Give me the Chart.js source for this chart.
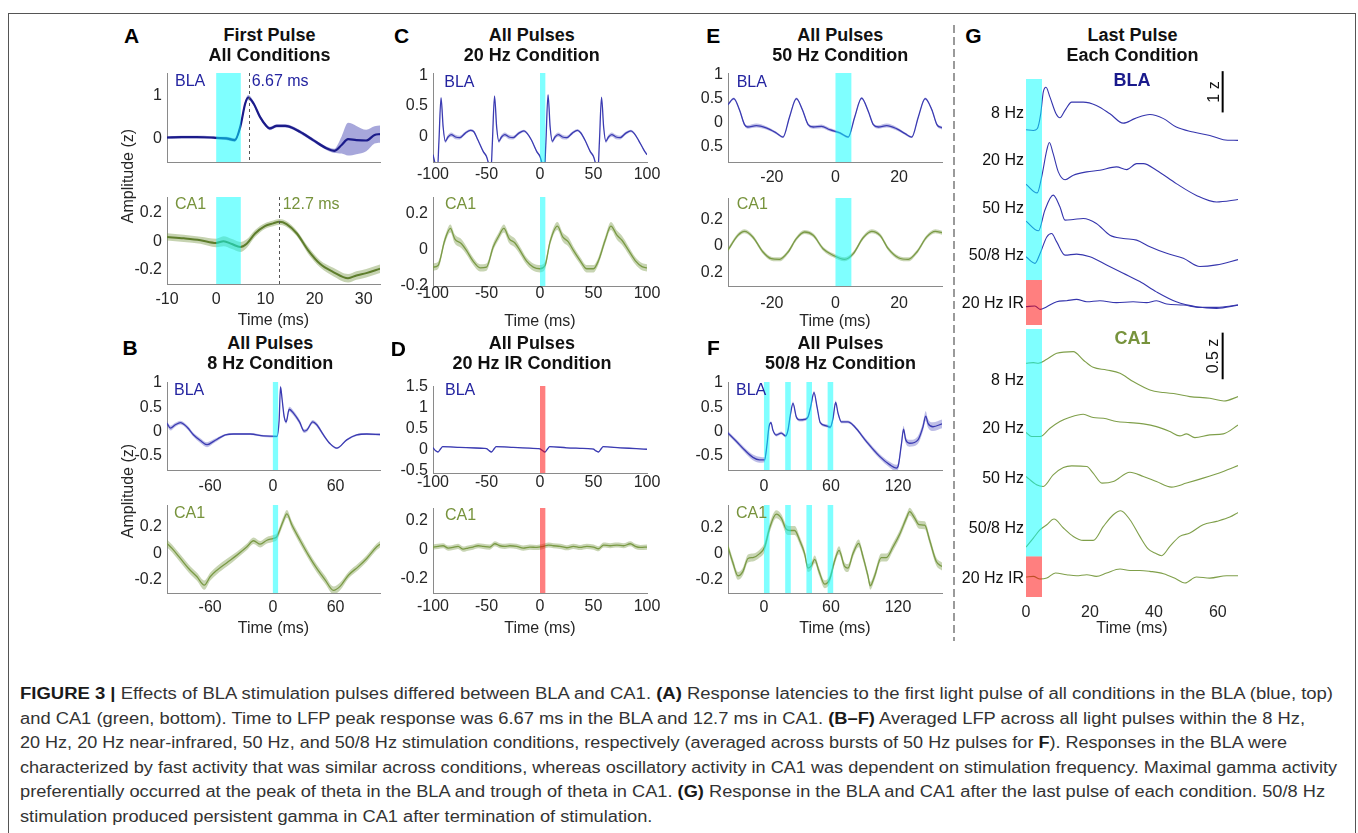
<!DOCTYPE html>
<html><head><meta charset="utf-8">
<script src="https://cdn.jsdelivr.net/npm/chart.js@4.4.1/dist/chart.umd.min.js"></script>
<style>
html,body{margin:0;padding:0;background:#fff;}
body{width:1358px;height:833px;overflow:hidden;position:relative;font-family:'Liberation Sans',Arial,Helvetica,sans-serif;}
.t{position:absolute;white-space:nowrap;line-height:1;}
.cap{position:absolute;left:20px;white-space:nowrap;line-height:1;font-size:16px;color:#333;transform-origin:0 50%;}
.cap b{color:#1a1a1a;}
</style></head><body>
<div style="position:absolute;left:8px;top:13px;width:1346px;height:900px;border:1.5px solid #555;"></div>
<div style="position:absolute;left:953px;top:25px;width:2px;height:616px;background:repeating-linear-gradient(to bottom,#9a9a9a 0 8px,transparent 8px 12px);"></div>
<div id="caption">
<div class="cap" data-w="1313" style="top:686px"><b>FIGURE 3 |</b> Effects of BLA stimulation pulses differed between BLA and CA1. <b>(A)</b> Response latencies to the first light pulse of all conditions in the BLA (blue, top)</div>
<div class="cap" data-w="1285" style="top:711px">and CA1 (green, bottom). Time to LFP peak response was 6.67 ms in the BLA and 12.7 ms in CA1. <b>(B–F)</b> Averaged LFP across all light pulses within the 8 Hz,</div>
<div class="cap" data-w="1267" style="top:735px">20 Hz, 20 Hz near-infrared, 50 Hz, and 50/8 Hz stimulation conditions, respectively (averaged across bursts of 50 Hz pulses for <b>F</b>). Responses in the BLA were</div>
<div class="cap" data-w="1317" style="top:760px">characterized by fast activity that was similar across conditions, whereas oscillatory activity in CA1 was dependent on stimulation frequency. Maximal gamma activity</div>
<div class="cap" data-w="1305" style="top:784px">preferentially occurred at the peak of theta in the BLA and trough of theta in CA1. <b>(G)</b> Response in the BLA and CA1 after the last pulse of each condition. 50/8 Hz</div>
<div class="cap" data-w="0" style="top:809px">stimulation produced persistent gamma in CA1 after termination of stimulation.</div>
</div>
<script>
// ================= DATA =================
// tick values
const aXTicks = [-10, 0, 10, 20, 30];
const bXTicks = [-60, 0, 60];
const cdXTicks = [-100, -50, 0, 50, 100];
const eXTicks = [-20, 0, 20];
const fXTicks = [0, 60, 120];
const gXTicks = [0, 20, 40, 60];
const aBlaYTicks = [0, 1];
const ca1YTicks = [-0.2, 0, 0.2];
const bfBlaYTicks = [-0.5, 0, 0.5, 1];
const cBlaYTicks = [0, 0.5, 1];
const dBlaYTicks = [-0.5, 0, 0.5, 1, 1.5];
const eBlaYTicks = [-0.5, 0, 0.5, 1];

// light pulses (ms): start times, duration
const pulseWidth = 5;
const singlePulse = [0];
const burstPulses = [0, 19, 38, 57];
const peakLatencies = { bla: 6.67, ca1: 12.7 };

// Panel A: first pulse, all conditions
const aBlaT = [-10,-7,-4,-1,0,2,3.8,4.9,5.9,6.5,7.6,8.9,10.2,10.9,12.3,14,17,19.7,22.4,24,25.5,26.8,28.5,30.5,32.2,33.3];
const aBlaV = [0.02,0.03,0.03,0.02,0.01,0.0,-0.04,0.27,0.81,0.95,0.81,0.5,0.29,0.23,0.29,0.29,0.155,-0.04,-0.23,-0.29,-0.155,-0.02,-0.04,-0.05,0.08,0.1];
const aBlaS = [0.03,0.03,0.03,0.03,0.03,0.04,0.04,0.05,0.06,0.06,0.05,0.04,0.04,0.04,0.04,0.04,0.04,0.04,0.04,0.05,0.2,0.38,0.33,0.25,0.2,0.2];
const aCa1T = [-10,-6.6,-3.2,0,1.5,3.2,4.9,6.2,7.9,9.9,11.6,12.8,14.3,16.4,18.7,21.1,23.8,26.8,28.5,30.5,33.3];
const aCa1V = [0.03,0.02,0.007,-0.012,0,-0.02,-0.04,-0.017,0.054,0.106,0.125,0.136,0.12,0.054,-0.064,-0.158,-0.216,-0.26,-0.24,-0.224,-0.193];
const aCa1S = [0.025,0.025,0.025,0.03,0.035,0.035,0.035,0.03,0.025,0.02,0.02,0.02,0.02,0.02,0.025,0.025,0.03,0.03,0.03,0.03,0.03];

// Panel B: 8 Hz
const bBlaT = [-101.3,-98,-93.3,-88.5,-82,-75.8,-69.4,-63,-56.7,-50.3,-45.5,-37.6,-21.7,-8.9,3.8,6,7.3,8.9,10.8,12.7,15.6,19.7,25.5,30,32.5,38.2,42,48.4,54.8,61.1,70.7,80.3,89.8,102.5];
const bBlaV = [0.17,0.07,0.14,0.185,0.09,-0.07,-0.185,-0.27,-0.2,-0.12,-0.07,-0.05,-0.05,-0.09,-0.1,0.24,0.92,0.65,0.31,0.2,0.46,0.38,0.2,0.01,0.03,0.2,0.14,-0.07,-0.25,-0.34,-0.17,-0.07,-0.05,-0.06];
const bBlaS = [0.05,0.05,0.04,0.04,0.04,0.04,0.05,0.05,0.04,0.03,0.02,0.02,0.02,0.02,0.02,0.03,0.03,0.04,0.04,0.04,0.05,0.05,0.05,0.04,0.04,0.04,0.04,0.03,0.02,0.02,0.02,0.02,0.02,0.02];
const bCa1T = [-101.3,-96.5,-88.5,-80.6,-72.6,-65.6,-60,-53.5,-44,-34.4,-24.8,-18.5,-12.1,-5.7,0.6,3.8,9.6,13.4,18.2,26,34,42,50,58,64.3,72.3,81.8,89.8,99.4,102.5];
const bCa1V = [0.076,0.038,-0.038,-0.114,-0.177,-0.24,-0.177,-0.127,-0.07,-0.013,0.05,0.096,0.07,0.1,0.114,0.127,0.24,0.3,0.215,0.1,-0.013,-0.114,-0.2,-0.28,-0.25,-0.165,-0.1,-0.038,0.05,0.07];
const bCa1S = [0.03,0.03,0.03,0.03,0.03,0.035,0.03,0.03,0.03,0.025,0.025,0.025,0.025,0.025,0.025,0.025,0.03,0.03,0.03,0.03,0.03,0.03,0.03,0.03,0.03,0.025,0.025,0.025,0.025,0.025];

// Panel C: 20 Hz
const cBlaT = [-100,-98,-96,-94.5,-92.5,-90.5,-88.5,-86,-83,-79,-75,-70,-65,-62,-58,-53,-50,-48,-46,-44.5,-42.5,-40.5,-38.5,-36,-33,-29,-25,-20,-15,-12,-8,-3,0,2,4,5.5,7.5,9.5,11.5,14,17,21,25,30,35,38,42,47,50,52,54,55.5,57.5,59.5,61.5,64,67,71,75,80,85,88,92,97,100];
const cBlaV = [-0.3,-0.45,-0.6,-0.1,0.63,0.15,-0.08,-0.01,0.03,-0.01,-0.02,0.05,0.1,0.08,-0.06,-0.25,-0.33,-0.45,-0.6,-0.1,0.66,0.15,-0.08,-0.01,0.03,-0.01,-0.02,0.05,0.09,0.05,-0.06,-0.25,-0.33,-0.45,-0.6,-0.1,0.68,0.15,-0.08,-0.01,0.03,-0.01,-0.02,0.05,0.1,0.06,-0.06,-0.25,-0.33,-0.45,-0.6,-0.1,0.64,0.15,-0.08,-0.01,0.03,-0.01,-0.02,0.05,0.09,0.05,-0.06,-0.22,-0.3];
const cBlaS = [0.015,0.015,0.015,0.015,0.02,0.02,0.03,0.035,0.035,0.035,0.03,0.025,0.02,0.02,0.015,0.015,0.015,0.015,0.015,0.015,0.02,0.02,0.03,0.035,0.035,0.035,0.03,0.025,0.02,0.02,0.015,0.015,0.015,0.015,0.015,0.015,0.02,0.02,0.03,0.035,0.035,0.035,0.03,0.025,0.02,0.02,0.015,0.015,0.015,0.015,0.015,0.015,0.02,0.02,0.03,0.035,0.035,0.035,0.03,0.025,0.02,0.02,0.015,0.015,0.015];
const cCa1T = [-100,-95.3,-89,-83.75,-79.7,-73.4,-68.75,-62.5,-56,-50,-43.75,-39,-33.75,-28.75,-23.4,-18.75,-12.5,-6.25,0,4.7,9.4,16.25,21.25,26.5,31.25,37.5,43.75,50,54.7,60.9,66.25,71.9,76.6,82.8,89,95.3,100];
const cCa1V = [-0.096,-0.087,0.052,0.117,0.06,0.033,-0.004,-0.063,-0.1,-0.096,0.015,0.07,0.117,0.06,0.037,-0.004,-0.063,-0.096,-0.105,-0.087,0.043,0.13,0.07,0.043,-0.004,-0.06,-0.105,-0.105,-0.06,0.052,0.13,0.08,0.052,-0.004,-0.06,-0.093,-0.1];
const cCa1S = [0.02,0.02,0.02,0.022,0.025,0.025,0.022,0.02,0.02,0.02,0.02,0.02,0.022,0.025,0.025,0.022,0.02,0.02,0.02,0.02,0.02,0.022,0.025,0.025,0.022,0.02,0.02,0.02,0.02,0.02,0.022,0.025,0.025,0.022,0.02,0.02,0.02];

// Panel D: 20 Hz IR
const dBlaT = [-100,-97.5,-95.3,-93,-91,-75,-60,-52,-50,-48,-45.3,-43,-41,-25,-10,-2,0,2,4.7,7,9,25,40,48,50,52,54.7,57,59,75,90,100];
const dBlaV = [0.05,-0.02,-0.05,0.02,0.077,0.06,0.045,0.035,0.03,-0.01,-0.05,0.02,0.077,0.06,0.04,0.03,0.025,-0.01,-0.05,0.02,0.077,0.05,0.035,0.025,0.02,-0.02,-0.05,0.02,0.077,0.05,0.03,0.015];
const dBlaS = [0.012,0.012,0.012,0.012,0.012,0.01,0.01,0.01,0.01,0.012,0.012,0.012,0.012,0.01,0.01,0.01,0.01,0.012,0.012,0.012,0.012,0.01,0.01,0.01,0.01,0.012,0.012,0.012,0.012,0.01,0.01,0.01];
const dCa1T = [-100,-95.3,-90.6,-85.9,-81.25,-76.6,-71.9,-67.2,-62.5,-57.8,-53.1,-46.9,-42.2,-37.5,-32.8,-28.1,-21.9,-15.6,-9.4,-3.1,3.1,7.8,12.5,18.75,25,31.25,37.5,43.75,50,54.7,59.4,65.6,71.9,78.1,84.4,89.1,93.75,100];
const dCa1V = [0.019,0.024,0.028,0.012,0.016,0.024,0.005,0.012,0.019,0.028,0.024,0.019,0.042,0.028,0.024,0.028,0.024,0.012,0.019,0.016,0.024,0.033,0.028,0.024,0.014,0.024,0.016,0.024,0.019,0.007,0.033,0.028,0.033,0.028,0.042,0.024,0.016,0.019];
const dCa1S = [0.018,0.018,0.018,0.018,0.018,0.018,0.018,0.018,0.018,0.018,0.018,0.018,0.018,0.018,0.018,0.018,0.018,0.018,0.018,0.018,0.018,0.018,0.018,0.018,0.018,0.018,0.018,0.018,0.018,0.018,0.018,0.018,0.018,0.018,0.018,0.018,0.018,0.018];

// Panel E: 50 Hz
const eBlaT = [-33.8,-32,-30.2,-28.6,-27.6,-24.9,-21.8,-18.6,-16.5,-14.4,-12.3,-10.4,-8.6,-7,-4.4,-1.8,1.4,4,6.1,8.2,10.3,11.9,13.5,16.1,19.3,21.9,24,26.1,28.2,30.3,31.9,33.5];
const eBlaV = [0.375,0.5,0.27,-0.04,-0.09,-0.06,-0.11,-0.215,-0.3,0.13,0.5,0.27,-0.04,-0.09,-0.076,-0.146,-0.215,-0.3,0.13,0.51,0.24,-0.04,-0.09,-0.06,-0.13,-0.23,-0.3,0.13,0.5,0.27,-0.04,-0.11];
const eBlaS = [0.025,0.025,0.025,0.03,0.035,0.04,0.035,0.025,0.02,0.02,0.025,0.025,0.03,0.035,0.04,0.035,0.025,0.02,0.02,0.025,0.025,0.03,0.035,0.04,0.035,0.025,0.02,0.02,0.025,0.025,0.03,0.035];
const eCa1T = [-33.8,-30.7,-28.6,-26,-22.8,-20.2,-17.6,-14.9,-12.3,-9.7,-7,-3.9,-0.7,2.9,5.6,8.7,11.4,14,16.6,19.8,22.9,25.6,28.7,31.4,33.5];
const eCa1V = [-0.03,0.08,0.11,0.068,-0.045,-0.095,-0.1,-0.045,0.055,0.105,0.08,-0.02,-0.07,-0.1,-0.057,0.062,0.11,0.08,-0.02,-0.088,-0.1,-0.045,0.068,0.11,0.1];
const eCa1S = [0.015,0.015,0.015,0.015,0.015,0.015,0.015,0.015,0.015,0.015,0.015,0.015,0.015,0.015,0.015,0.015,0.015,0.015,0.015,0.015,0.015,0.015,0.015,0.015,0.015];

// Panel F: 50/8 Hz
const fBlaT = [-32.2,-24.8,-17.3,-9.9,-3.9,0.6,2.7,4.5,6.3,8,11,15.5,19.4,21.5,23.6,26,29,32,36.4,39.4,41.8,44.8,47.5,50.4,55.8,59.4,61.8,64.2,66.3,69.3,75.2,81.2,91.6,103.6,112.5,118.5,120,123,125,126.9,130.4,137.9,142.4,144.8,146.9,151.3,159.4];
const fBlaV = [-0.03,-0.2,-0.38,-0.53,-0.58,-0.58,-0.27,0.1,0.185,0.03,-0.07,-0.03,-0.09,0.03,0.34,0.58,0.3,0.24,0.25,0.3,0.51,0.8,0.51,0.185,0.12,0.09,0.27,0.6,0.38,0.2,0.2,0.1,-0.2,-0.51,-0.68,-0.75,-0.72,-0.27,0.05,-0.17,-0.24,-0.17,0.1,0.32,0.17,0.1,0.16];
const fBlaS = [0.04,0.04,0.05,0.06,0.06,0.05,0.04,0.03,0.03,0.03,0.03,0.03,0.03,0.03,0.03,0.04,0.03,0.03,0.03,0.03,0.03,0.04,0.03,0.03,0.03,0.03,0.03,0.04,0.03,0.03,0.03,0.03,0.04,0.05,0.06,0.07,0.07,0.07,0.07,0.07,0.07,0.08,0.09,0.1,0.09,0.09,0.09];
const fCa1T = [-32.2,-27.8,-23.3,-18.8,-14.3,-9.9,-3.9,0.6,5.1,11,15.5,20,23,27.5,32,36.4,39.4,42.4,45.4,49.3,54.3,58.8,63.3,67.2,72.2,75.2,79.7,84.8,88.7,93.1,95.2,99.1,105,109.6,115.5,121.5,127.5,130.4,134.9,138.8,143.9,148.4,154.3,159.4];
const fCa1V = [0.05,-0.07,-0.17,-0.135,-0.037,-0.03,0,0.05,0.196,0.3,0.27,0.185,0.176,0.176,0.1,0,-0.11,-0.093,-0.044,-0.135,-0.233,-0.196,-0.054,0.025,-0.098,-0.11,0,0.078,-0.025,-0.17,-0.245,-0.17,-0.03,-0.03,0.05,0.147,0.27,0.32,0.27,0.22,0.216,0.1,-0.06,-0.098];
const fCa1S = [0.03,0.03,0.03,0.03,0.03,0.03,0.03,0.035,0.035,0.03,0.03,0.035,0.035,0.035,0.03,0.03,0.03,0.03,0.03,0.03,0.03,0.03,0.03,0.03,0.03,0.03,0.03,0.03,0.03,0.03,0.03,0.03,0.03,0.03,0.03,0.03,0.03,0.03,0.03,0.03,0.03,0.03,0.03,0.03];

// Panel G: last pulse, each condition (values relative to trace start, z)
const gConditions = ['8 Hz', '20 Hz', '50 Hz', '50/8 Hz', '20 Hz IR'];
const gBla8T = [0,2.3,3.5,4.6,5.4,6.25,7.5,9.4,10.6,12.2,14.3,17.9,22,26.25,30.4,34,38.75,43,47,52.3,57.5,61.7,66.4];
const gBla8V = [0,-0.016,0.024,0.387,0.91,1.03,0.79,0.387,0.29,0.47,0.67,0.67,0.59,0.387,0.16,0.27,0.37,0.27,0.065,-0.056,-0.137,-0.24,-0.258];
const gBla20T = [0,3.5,4.9,6.5,7.3,8.5,10.1,12.2,14.8,19,23.1,28.3,31.5,34.6,36.7,40.8,47,53.3,59.6,66.4];
const gBla20V = [0,-0.21,0.18,0.825,1.01,0.74,0.3,0.11,0.22,0.3,0.34,0.42,0.355,0.5,0.5,0.34,0.016,-0.27,-0.43,-0.37];
const gBla50T = [0,3.9,5.9,8.5,10.6,12.2,14.8,17.9,22,26.25,30.4,34.6,38.75,44,49.2,54.4,59.6,66.4];
const gBla50V = [0,-0.234,0.266,0.63,0.35,0.024,0.04,0.065,-0.056,-0.34,-0.42,-0.46,-0.62,-0.78,-0.9,-1.1,-1.06,-0.93];
const gBla508T = [0,2.8,4.4,6.5,8,9.6,12.2,15.8,20,25.2,30.4,35.6,40.8,47,53.3,59.6,66.4];
const gBla508V = [0,-0.16,0.08,0.48,0.565,0.36,0.04,0.065,0,-0.2,-0.4,-0.6,-0.85,-1.09,-1.21,-1.25,-1.17];
const gBlaIrT = [0,2.8,4.4,6.5,9.6,12.7,15.8,19,23.1,28.3,33.5,37.7,40.8,44,49.2,54.4,59.6,66.4];
const gBlaIrV = [0,0.016,-0.065,0,0.12,0.145,0.177,0.12,0.145,0.097,0.12,0.097,0.145,0.065,0.04,-0.016,-0.016,0.04];
const gCa18T = [0,2.3,3.9,6.5,9.6,14.8,17.9,21,25.2,29.4,33.5,38.75,43,47,51.25,57.5,61.9,66.4];
const gCa18V = [0,0.007,0,0.043,0.107,0.125,0.036,-0.043,-0.071,-0.107,-0.196,-0.286,-0.314,-0.329,-0.357,-0.375,-0.404,-0.357];
const gCa120T = [0,1.8,4.4,7.5,10.6,13.75,17.9,21,24.2,28.3,32.5,36.7,40.8,45,48.1,50.2,52.8,57.5,61.7,66.4];
const gCa120V = [0,-0.043,-0.043,0.046,0.118,0.164,0.196,0.161,0.154,0.118,0.107,0.093,0.064,0.011,-0.036,-0.014,-0.054,-0.025,-0.014,0.082];
const gCa150T = [0,3.3,5.4,8.5,11.7,14.3,19,21,23.75,27.3,32.5,36.7,40.8,45.5,50.2,55.4,61.7,66.4];
const gCa150V = [0,-0.089,-0.107,0.018,0.096,0.114,0.107,0.036,-0.071,-0.054,0.046,0,-0.054,-0.114,-0.071,-0.018,0.054,0.118];
const gCa1508T = [0,2.3,4.4,6.5,8.75,11.7,14.8,17.9,21,24.2,27.3,29.6,32.5,35.6,38.2,40.3,42.4,45,48.1,51.25,55.4,59.6,63.75,66.4];
const gCa1508V = [0,0.096,0.186,0.239,0.3,0.204,0.114,0.071,0.071,0.221,0.346,0.389,0.293,0.114,-0.021,-0.064,-0.093,0.007,0.114,0.15,0.239,0.275,0.321,0.371];
const gCa1IrT = [0,2.3,4.4,6.5,9.2,12.7,15.8,19,22,25.2,29.4,32.5,35.6,38.75,43,47,49.7,53.3,57.5,62.75,66.4];
const gCa1IrV = [0,0.007,-0.021,-0.011,0.043,0.025,0.014,0.025,0.007,0.043,0.086,0.071,0.071,0.061,0.036,-0.021,-0.064,0,-0.011,0.014,0.014];
const gScaleBars = { bla: 1, ca1: 0.5 };

// ================= STYLE / LAYOUT =================
const FONT = "'Liberation Sans', Arial, Helvetica, sans-serif";
const INK = '#262626';
Chart.defaults.font.family = FONT;
const CYAN = 'rgba(0,255,255,0.5)', RED = 'rgba(255,0,0,0.5)';
const BLA_TXT = '#2424a0', CA1_TXT = '#77933c';
const styleBlaA = { line: '#1b1b8a', w: 2.2, band: 'rgba(60,60,175,0.45)' };
const styleBla = { line: '#3b3bb2', w: 1.3, band: 'rgba(70,70,185,0.35)' };
const styleCa1A = { line: '#5e7d2c', w: 2.0, band: 'rgba(120,150,70,0.42)' };
const styleCa1 = { line: '#7a9a45', w: 1.3, band: 'rgba(125,155,75,0.42)' };

function series(t, v, s, st) {
  const out = [{ data: t.map((x, i) => ({ x, y: v[i] })), borderColor: st.line, borderWidth: st.w,
    pointRadius: 0, fill: false, cubicInterpolationMode: 'monotone', order: 0 }];
  if (s) {
    out.push({ data: t.map((x, i) => ({ x, y: v[i] + s[i] })), borderWidth: 0, borderColor: 'rgba(0,0,0,0)',
      pointRadius: 0, fill: false, cubicInterpolationMode: 'monotone', order: 1 });
    out.push({ data: t.map((x, i) => ({ x, y: v[i] - s[i] })), borderWidth: 0, borderColor: 'rgba(0,0,0,0)',
      pointRadius: 0, fill: '-1', backgroundColor: st.band, cubicInterpolationMode: 'monotone', order: 1 });
  }
  return out;
}

function makeChart(p) {
  const L = Math.round(p.L), T = Math.round(p.T), R = Math.round(p.R), B = Math.round(p.B);
  const padL = 50, padR = 30, padT = p.padT || 12;
  const xH = p.xTitle ? Math.round(p.titleY - B + 9.6) : (p.showX ? 30 : 6);
  const W = (R - L) + padL + padR, H = (B - T) + padT + xH;
  const div = document.createElement('div');
  div.style.cssText = `position:absolute;left:${L - padL}px;top:${T - padT}px;width:${W}px;height:${H}px;`;
  const cv = document.createElement('canvas');
  cv.width = W; cv.height = H; cv.style.width = W + 'px'; cv.style.height = H + 'px';
  div.appendChild(cv); document.body.appendChild(div);
  const axisCol = '#8a8a8a';
  const overlay = {
    id: 'overlay' + p.id,
    afterDatasetsDraw(chart) {
      const { ctx, chartArea: ca, scales: { x, y } } = chart;
      ctx.save();
      (p.stims || []).forEach(s => {
        const x0 = x.getPixelForValue(s.x0), x1 = x.getPixelForValue(s.x1);
        const y0 = s.y0 === undefined ? ca.bottom : y.getPixelForValue(s.y0);
        const y1 = s.y1 === undefined ? ca.top : y.getPixelForValue(s.y1);
        ctx.fillStyle = s.color; ctx.fillRect(x0, y1, x1 - x0, y0 - y1);
      });
      (p.vlines || []).forEach(v => {
        const xp = Math.round(x.getPixelForValue(v)) + 0.5;
        ctx.strokeStyle = '#555'; ctx.lineWidth = 1; ctx.setLineDash([3, 3]);
        ctx.beginPath(); ctx.moveTo(xp, ca.top); ctx.lineTo(xp, ca.bottom); ctx.stroke();
      });
      ctx.setLineDash([]);
      (p.bars || []).forEach(b => {
        const xp = x.getPixelForValue(b.x);
        ctx.strokeStyle = '#000'; ctx.lineWidth = 2;
        ctx.beginPath(); ctx.moveTo(xp, y.getPixelForValue(b.y0)); ctx.lineTo(xp, y.getPixelForValue(b.y0 + b.len)); ctx.stroke();
      });
      ctx.restore();
    }
  };
  new Chart(cv, {
    type: 'line',
    data: { datasets: p.datasets },
    plugins: [overlay],
    options: {
      responsive: false, animation: false, events: [],
      layout: { padding: { top: padT, right: padR, left: 0, bottom: 0 } },
      plugins: { legend: { display: false }, tooltip: { enabled: false } },
      scales: {
        x: {
          type: 'linear', min: p.xmin, max: p.xmax, bounds: 'data',
          afterBuildTicks: s => { s.ticks = p.xticks.map(v => ({ value: v })); },
          afterFit: s => { s.height = xH; s.paddingLeft = 0; s.paddingRight = 0; },
          ticks: { display: !!p.showX, padding: p.xPad || 0, color: INK, maxRotation: 0, autoSkip: false,
            font: { family: FONT, size: 16, lineHeight: 1 }, callback: v => String(v) },
          grid: { display: true, drawOnChartArea: false, drawTicks: false, color: axisCol },
          border: { display: p.axes !== false, color: axisCol, width: 1 },
          title: { display: !!p.xTitle, text: p.xTitle || '', color: INK, padding: { top: 0, bottom: 0 },
            font: { family: FONT, size: 16, lineHeight: 1.2 } }
        },
        y: {
          type: 'linear', min: p.ymin, max: p.ymax, bounds: 'data',
          afterBuildTicks: s => { s.ticks = (p.yticks || []).map(v => ({ value: v })); },
          afterFit: s => { s.width = padL; s.paddingTop = 0; s.paddingBottom = 0; },
          ticks: { display: p.axes !== false, padding: 5, color: INK, autoSkip: false,
            font: { family: FONT, size: 16, lineHeight: 1 }, callback: p.yfmt || (v => String(v)) },
          grid: { display: true, drawOnChartArea: false, drawTicks: false, color: axisCol },
          border: { display: p.axes !== false, color: axisCol, width: 1 }
        }
      }
    }
  });
}

const stim1 = singlePulse.map(s => ({ x0: s, x1: s + pulseWidth, color: CYAN }));
const stimIR = singlePulse.map(s => ({ x0: s, x1: s + pulseWidth, color: RED }));
const stimF = burstPulses.map(s => ({ x0: s, x1: s + pulseWidth, color: CYAN }));
const noMinus = v => String(Math.abs(v));

const charts = [
  { id: 'aBla', L: 166.7, T: 73, R: 380, B: 162, xmin: -10, xmax: 33.3, ymin: -0.55, ymax: 1.52, xticks: aXTicks, yticks: aBlaYTicks,
    showX: false, datasets: series(aBlaT, aBlaV, aBlaS, styleBlaA), stims: stim1, vlines: [peakLatencies.bla] },
  { id: 'aCa1', L: 166.7, T: 196.7, R: 380, B: 284.3, xmin: -10, xmax: 33.3, ymin: -0.3, ymax: 0.31, xticks: aXTicks, yticks: ca1YTicks,
    showX: true, xPad: 7.7, xTitle: 'Time (ms)', titleY: 320, datasets: series(aCa1T, aCa1V, aCa1S, styleCa1A), stims: stim1, vlines: [peakLatencies.ca1] },
  { id: 'cBla', L: 433.3, T: 73.3, R: 646.7, B: 162.3, xmin: -100, xmax: 100, ymin: -0.42, ymax: 1.04, xticks: cdXTicks, yticks: cBlaYTicks,
    showX: true, xPad: 4.7, datasets: series(cBlaT, cBlaV, cBlaS, styleBla), stims: stim1 },
  { id: 'cCa1', L: 433.3, T: 196.7, R: 646.7, B: 285.7, xmin: -100, xmax: 100, ymin: -0.2, ymax: 0.29, xticks: cdXTicks, yticks: ca1YTicks,
    showX: true, xPad: 0, xTitle: 'Time (ms)', titleY: 321.7, datasets: series(cCa1T, cCa1V, cCa1S, styleCa1), stims: stim1 },
  { id: 'eBla', L: 728.3, T: 73.3, R: 942.3, B: 162.3, xmin: -33.8, xmax: 33.5, ymin: -0.82, ymax: 1.035, xticks: eXTicks, yticks: eBlaYTicks,
    showX: true, xPad: 7.7, yfmt: noMinus, datasets: series(eBlaT, eBlaV, eBlaS, styleBla), stims: stim1 },
  { id: 'eCa1', L: 728.3, T: 197.7, R: 942.3, B: 285.7, xmin: -33.8, xmax: 33.5, ymin: -0.3, ymax: 0.36, xticks: eXTicks, yticks: ca1YTicks,
    showX: true, xPad: 9.3, xTitle: 'Time (ms)', titleY: 321.7, yfmt: noMinus, datasets: series(eCa1T, eCa1V, eCa1S, styleCa1), stims: stim1 },
  { id: 'bBla', L: 166.7, T: 382.3, R: 380, B: 470, xmin: -101.3, xmax: 102.5, ymin: -0.79, ymax: 1.02, xticks: bXTicks, yticks: bfBlaYTicks,
    showX: true, xPad: 8.7, datasets: series(bBlaT, bBlaV, bBlaS, styleBla), stims: stim1 },
  { id: 'bCa1', L: 166.7, T: 505, R: 380, B: 593.3, xmin: -101.3, xmax: 102.5, ymin: -0.3, ymax: 0.367, xticks: bXTicks, yticks: ca1YTicks,
    showX: true, xPad: 6.7, xTitle: 'Time (ms)', titleY: 628.3, datasets: series(bCa1T, bCa1V, bCa1S, styleCa1), stims: stim1 },
  { id: 'dBla', L: 433.3, T: 385.7, R: 646.7, B: 473.3, xmin: -100, xmax: 100, ymin: -0.55, ymax: 1.52, xticks: cdXTicks, yticks: dBlaYTicks,
    showX: true, xPad: 2, datasets: series(dBlaT, dBlaV, dBlaS, styleBla), stims: stimIR },
  { id: 'dCa1', L: 433.3, T: 507.7, R: 646.7, B: 593.3, xmin: -100, xmax: 100, ymin: -0.3, ymax: 0.29, xticks: cdXTicks, yticks: ca1YTicks,
    showX: true, xPad: 5.4, xTitle: 'Time (ms)', titleY: 628.3, datasets: series(dCa1T, dCa1V, dCa1S, styleCa1), stims: stimIR },
  { id: 'fBla', L: 728.3, T: 381.7, R: 942.3, B: 470, xmin: -32.2, xmax: 159.4, ymin: -0.79, ymax: 1.02, xticks: fXTicks, yticks: bfBlaYTicks,
    showX: true, xPad: 8.7, datasets: series(fBlaT, fBlaV, fBlaS, styleBla), stims: stimF },
  { id: 'fCa1', L: 728.3, T: 505, R: 942.3, B: 593.3, xmin: -32.2, xmax: 159.4, ymin: -0.3, ymax: 0.37, xticks: fXTicks, yticks: ca1YTicks,
    showX: true, xPad: 7, xTitle: 'Time (ms)', titleY: 628.3, datasets: series(fCa1T, fCa1V, fCa1S, styleCa1), stims: stimF }
];
charts.forEach(makeChart);

// ---- Panel G (stacked traces, offset per condition) ----
const gBlaRows = [[gBla8T, gBla8V], [gBla20T, gBla20V], [gBla50T, gBla50V], [gBla508T, gBla508V], [gBlaIrT, gBlaIrV]];
const gCa1Rows = [[gCa18T, gCa18V], [gCa120T, gCa120V], [gCa150T, gCa150V], [gCa1508T, gCa1508V], [gCa1IrT, gCa1IrV]];
const gBlaOffsets = [4.73, 3.41, 2.516, 1.653, 0.444];
const gCa1Offsets = [2.507, 1.764, 1.293, 0.536, 0.214];
function stacked(rows, offs, color) {
  return rows.map((r, k) => ({ data: r[0].map((x, i) => ({ x, y: offs[k] + r[1][i] })), borderColor: color, borderWidth: 1.1,
    pointRadius: 0, fill: false, cubicInterpolationMode: 'monotone' }));
}
makeChart({ id: 'gBla', L: 1026, T: 79, R: 1238.3, B: 325, padT: 12, xmin: 0, xmax: 66.3, ymin: 0, ymax: 5.96, xticks: gXTicks, yticks: [],
  axes: false, showX: false, datasets: stacked(gBlaRows, gBlaOffsets, '#3535ad'),
  stims: [{ x0: 0, x1: pulseWidth, y0: 1.09, y1: 5.96, color: CYAN }, { x0: 0, x1: pulseWidth, y0: 0, y1: 1.09, color: RED }],
  bars: [{ x: 61.5, y0: 5.15, len: gScaleBars.bla }] });
makeChart({ id: 'gCa1', L: 1026, T: 329, R: 1238.3, B: 597.3, padT: 8, xmin: 0, xmax: 66.3, ymin: 0, ymax: 2.875, xticks: gXTicks, yticks: [],
  axes: false, showX: true, xPad: 7.7, xTitle: 'Time (ms)', titleY: 628.3, datasets: stacked(gCa1Rows, gCa1Offsets, '#7f9f4a'),
  stims: [{ x0: 0, x1: pulseWidth, y0: 0.435, y1: 2.875, color: CYAN }, { x0: 0, x1: pulseWidth, y0: 0, y1: 0.435, color: RED }],
  bars: [{ x: 61.5, y0: 2.336, len: gScaleBars.ca1 }] });

// ================= TEXT =================
function txt(s, x, y, o = {}) {
  const d = document.createElement('div');
  d.className = 't'; d.textContent = s;
  const tx = o.align === 'c' ? '-50%' : o.align === 'r' ? '-100%' : '0';
  d.style.left = x + 'px'; d.style.top = y + 'px';
  d.style.fontSize = (o.size || 16) + 'px';
  d.style.fontWeight = o.bold ? 'bold' : 'normal';
  d.style.color = o.color || INK;
  d.style.transform = `translate(${tx},-50%)` + (o.rot ? ` rotate(${o.rot}deg)` : '');
  document.body.appendChild(d);
}
// panel letters
[['A', 131.7, 35], ['C', 401.7, 35], ['E', 713.3, 35], ['G', 973.3, 35], ['B', 130, 346.7], ['D', 398.3, 348.3], ['F', 713.3, 346.7]]
  .forEach(a => txt(a[0], a[1], a[2], { align: 'c', bold: true, size: 21, color: '#000' }));
// titles
[['First Pulse', 'All Conditions', 269.5, 35], ['All Pulses', '20 Hz Condition', 531.8, 35], ['All Pulses', '50 Hz Condition', 840.3, 35],
 ['Last Pulse', 'Each Condition', 1132.5, 35], ['All Pulses', '8 Hz Condition', 270.3, 343.3], ['All Pulses', '20 Hz IR Condition', 531.9, 343.3],
 ['All Pulses', '50/8 Hz Condition', 840.5, 343.3]].forEach(a => {
  txt(a[0], a[2], a[3], { align: 'c', bold: true, size: 18, color: '#111' });
  txt(a[1], a[2], a[3] + 20, { align: 'c', bold: true, size: 18, color: '#111' });
});
// region labels
[[175, 81], [444.3, 81.7], [736.7, 81.7], [174, 390], [445, 390], [736, 390]].forEach(a => txt('BLA', a[0], a[1], { color: BLA_TXT }));
[[175, 204], [445, 204.3], [736.7, 204.3], [174, 512.7], [445, 515], [736, 512.7]].forEach(a => txt('CA1', a[0], a[1], { color: CA1_TXT }));
txt(peakLatencies.bla + ' ms', 251.7, 81, { color: BLA_TXT });
txt(peakLatencies.ca1 + ' ms', 282.7, 204, { color: CA1_TXT });
txt('Amplitude (z)', 128, 176, { align: 'c', rot: -90 });
txt('Amplitude (z)', 128, 491, { align: 'c', rot: -90 });
// panel G labels
txt('BLA', 1132, 80, { align: 'c', bold: true, size: 18, color: '#1a1a8c' });
txt('CA1', 1132.5, 338.3, { align: 'c', bold: true, size: 18, color: CA1_TXT });
[112.7, 160, 207.7, 255, 302.7].forEach((y, i) => txt(gConditions[i], 1024, y, { align: 'r', color: '#111' }));
[380, 428.3, 478.3, 528.3, 578.3].forEach((y, i) => txt(gConditions[i], 1024, y, { align: 'r', color: '#111' }));
txt(gScaleBars.bla + ' z', 1214, 92, { align: 'c', rot: -90, color: '#111' });
txt(gScaleBars.ca1 + ' z', 1213, 356, { align: 'c', rot: -90, color: '#111' });

// caption: fit each line to its measured width
const caps = [...document.querySelectorAll('.cap')];
let sc = [];
caps.forEach(c => {
  const target = +c.dataset.w; const w = c.getBoundingClientRect().width;
  if (target > 0) { const k = target / w; sc.push(k); c.style.transform = `scaleX(${k})`; }
});
const avg = sc.reduce((a, b) => a + b, 0) / sc.length;
caps.forEach(c => { if (+c.dataset.w === 0) c.style.transform = `scaleX(${avg})`; });
</script>
</body></html>
